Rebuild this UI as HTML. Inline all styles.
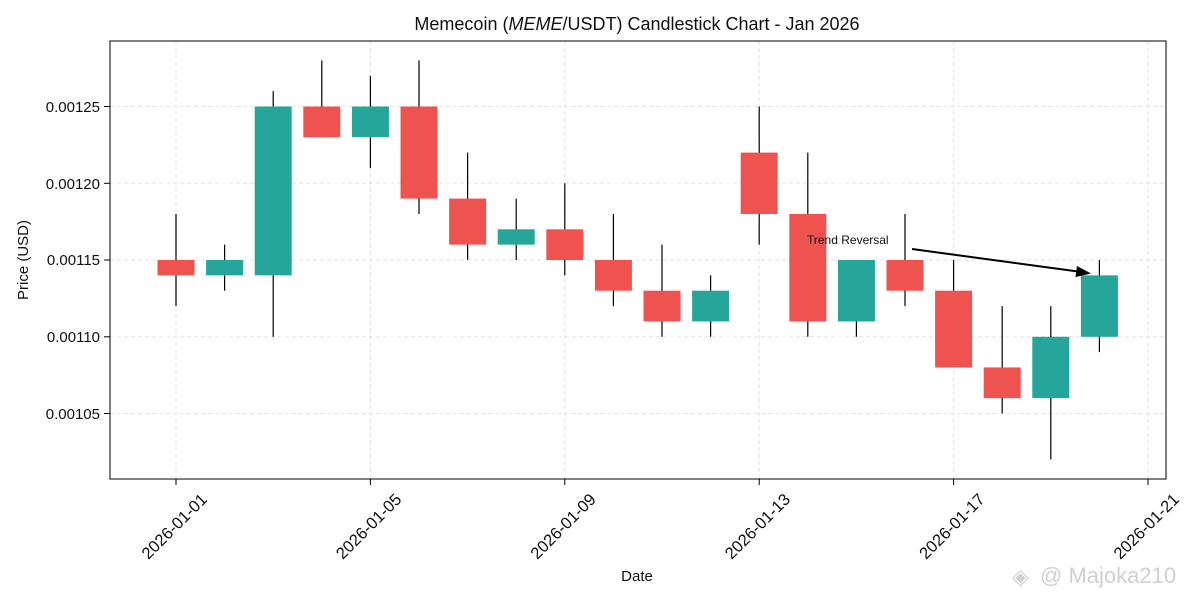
<!DOCTYPE html>
<html><head><meta charset="utf-8"><style>
body{margin:0;background:#fff;}
text{font-family:"Liberation Sans",sans-serif;fill:#111;}
</style></head><body>
<svg width="1200" height="600" xmlns="http://www.w3.org/2000/svg">
<rect width="1200" height="600" fill="#fff"/>
<g stroke="#e3e3e3" stroke-dasharray="4,3" stroke-width="1">
<line x1="110" x2="1166" y1="106.5" y2="106.5"/><line x1="110" x2="1166" y1="183.3" y2="183.3"/>
<line x1="110" x2="1166" y1="260" y2="260"/><line x1="110" x2="1166" y1="336.8" y2="336.8"/>
<line x1="110" x2="1166" y1="413.5" y2="413.5"/>
<line x1="176" x2="176" y1="41" y2="479"/><line x1="370.4" x2="370.4" y1="41" y2="479"/>
<line x1="564.8" x2="564.8" y1="41" y2="479"/><line x1="759.2" x2="759.2" y1="41" y2="479"/>
<line x1="953.6" x2="953.6" y1="41" y2="479"/><line x1="1148" x2="1148" y1="41" y2="479"/>
</g>
<g stroke="#000" stroke-width="1.2">
<line x1="176" x2="176" y1="213.95" y2="306.1"/>
<line x1="224.6" x2="224.6" y1="244.65" y2="290.7"/>
<line x1="273.2" x2="273.2" y1="91.1" y2="336.8"/>
<line x1="321.8" x2="321.8" y1="60.4" y2="137.2"/>
<line x1="370.4" x2="370.4" y1="75.8" y2="167.9"/>
<line x1="419" x2="419" y1="60.4" y2="213.95"/>
<line x1="467.6" x2="467.6" y1="152.6" y2="260"/>
<line x1="516.2" x2="516.2" y1="198.6" y2="260"/>
<line x1="564.8" x2="564.8" y1="183.3" y2="275.35"/>
<line x1="613.4" x2="613.4" y1="213.95" y2="306.1"/>
<line x1="662" x2="662" y1="244.65" y2="336.8"/>
<line x1="710.6" x2="710.6" y1="275.35" y2="336.8"/>
<line x1="759.2" x2="759.2" y1="106.5" y2="244.65"/>
<line x1="807.8" x2="807.8" y1="152.6" y2="336.8"/>
<line x1="856.4" x2="856.4" y1="260" y2="336.8"/>
<line x1="905" x2="905" y1="213.95" y2="306.1"/>
<line x1="953.6" x2="953.6" y1="260" y2="367.45"/>
<line x1="1002.2" x2="1002.2" y1="306.1" y2="413.5"/>
<line x1="1050.8" x2="1050.8" y1="306.1" y2="459.55"/>
<line x1="1099.4" x2="1099.4" y1="260" y2="352.1"/>
</g>
<g fill="#ef5350">
<rect x="157.5" y="260" width="37" height="15.35"/>
<rect x="303.3" y="106.5" width="37" height="30.7"/>
<rect x="400.5" y="106.5" width="37" height="92.1"/>
<rect x="449.1" y="198.6" width="37" height="46.05"/>
<rect x="546.3" y="229.3" width="37" height="30.7"/>
<rect x="594.9" y="260" width="37" height="30.7"/>
<rect x="643.5" y="290.7" width="37" height="30.75"/>
<rect x="740.7" y="152.6" width="37" height="61.35"/>
<rect x="789.3" y="213.95" width="37" height="107.5"/>
<rect x="886.5" y="260" width="37" height="30.7"/>
<rect x="935.1" y="290.7" width="37" height="76.75"/>
<rect x="983.7" y="367.45" width="37" height="30.7"/>
</g>
<g fill="#26a69a">
<rect x="206.1" y="260" width="37" height="15.35"/>
<rect x="254.7" y="106.5" width="37" height="168.85"/>
<rect x="351.9" y="106.5" width="37" height="30.7"/>
<rect x="497.7" y="229.3" width="37" height="15.35"/>
<rect x="692.1" y="290.7" width="37" height="30.75"/>
<rect x="837.9" y="260" width="37" height="61.45"/>
<rect x="1032.3" y="336.8" width="37" height="61.35"/>
<rect x="1080.9" y="275.35" width="37" height="61.45"/>
</g>
<rect x="110" y="41" width="1056" height="438" fill="none" stroke="#000" stroke-width="1"/>
<g stroke="#000">
<line x1="104" x2="110" y1="106.5" y2="106.5"/><line x1="104" x2="110" y1="183.3" y2="183.3"/>
<line x1="104" x2="110" y1="260" y2="260"/><line x1="104" x2="110" y1="336.8" y2="336.8"/>
<line x1="104" x2="110" y1="413.5" y2="413.5"/>
<line x1="176" x2="176" y1="479" y2="485"/><line x1="370.4" x2="370.4" y1="479" y2="485"/>
<line x1="564.8" x2="564.8" y1="479" y2="485"/><line x1="759.2" x2="759.2" y1="479" y2="485"/>
<line x1="953.6" x2="953.6" y1="479" y2="485"/><line x1="1148" x2="1148" y1="479" y2="485"/>
</g>
<g font-size="15" text-anchor="end">
<text x="100" y="112">0.00125</text><text x="100" y="189">0.00120</text>
<text x="100" y="265">0.00115</text><text x="100" y="342">0.00110</text>
<text x="100" y="419">0.00105</text>
</g>
<g font-size="16.5" text-anchor="middle">
<text transform="translate(174,526) rotate(-45)" dy="6">2026-01-01</text>
<text transform="translate(368.4,526) rotate(-45)" dy="6">2026-01-05</text>
<text transform="translate(562.8,526) rotate(-45)" dy="6">2026-01-09</text>
<text transform="translate(757.2,526) rotate(-45)" dy="6">2026-01-13</text>
<text transform="translate(951.6,526) rotate(-45)" dy="6">2026-01-17</text>
<text transform="translate(1146,526) rotate(-45)" dy="6">2026-01-21</text>
</g>
<text x="637" y="581" font-size="15" text-anchor="middle">Date</text>
<text transform="translate(28,260) rotate(-90)" font-size="15" text-anchor="middle">Price (USD)</text>
<text x="637" y="30" font-size="18" text-anchor="middle">Memecoin (<tspan font-style="italic">MEME</tspan>/USDT) Candlestick Chart - Jan 2026</text>
<text x="807" y="244" font-size="12">Trend Reversal</text>
<line x1="912" y1="249" x2="1078" y2="271.5" stroke="#000" stroke-width="2"/>
<polygon points="1091,273.5 1077,266 1075.5,277" fill="#000"/>
<text x="1040" y="583" font-size="22" style="fill:#d0d0d0">@ Majoka210</text>
<text x="1012" y="584" font-size="22" style="fill:#d0d0d0">◈</text>
</svg>
</body></html>
